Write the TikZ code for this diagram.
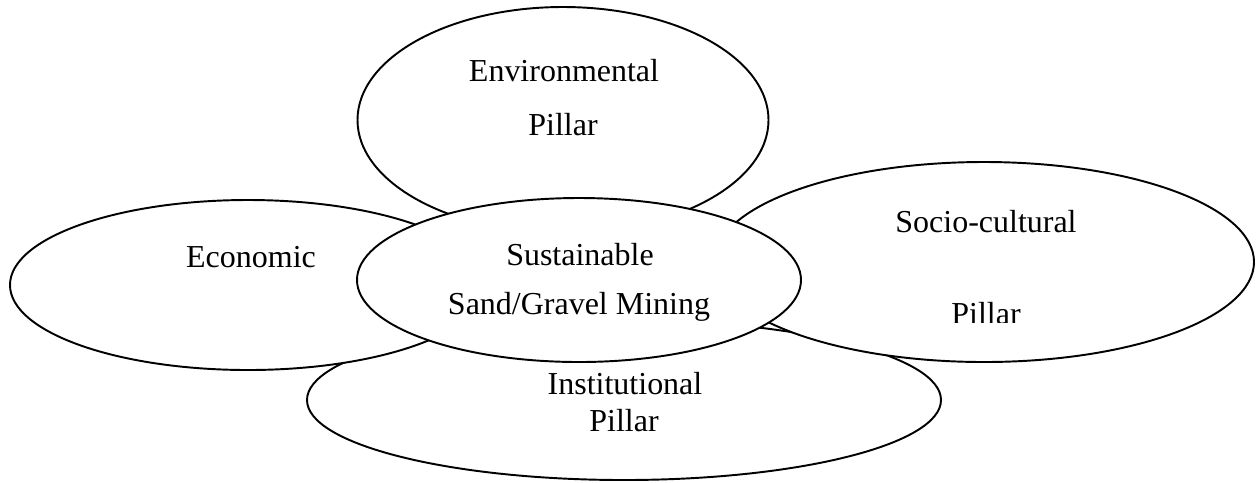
\documentclass[tikz,border=0pt]{standalone}
\usepackage{fontspec}
\setmainfont{Liberation Serif}
\usepackage{tikz}
\usetikzlibrary{shapes.geometric}

\tikzset{
    pillar/.style={ellipse, draw, fill=white, line width=1.1pt, inner sep=0pt},
    lbl/.style={font=\fontsize{18.2}{22}\selectfont, inner sep=0pt}
}

\begin{document}
\begin{tikzpicture}[x=0.2mm, y=-0.2mm]
        \useasboundingbox (0,0) rectangle (1256,482);
        % ellipses, back to front
        \node[pillar, minimum width=126.8mm, minimum height=32mm] (inst) at (624,400) {};
        \node[pillar, minimum width=95.2mm, minimum height=34mm] (econ) at (248,285) {};
        \node[pillar, minimum width=82.2mm, minimum height=45.2mm] (env) at (563,120) {};
        \node[pillar, minimum width=108mm, minimum height=40mm] (socio) at (984,262) {};
        \node[pillar, minimum width=88.8mm, minimum height=32.8mm] (core) at (579,280) {};
        % texts
        \node[lbl] (envA) at (564,71) {Environmental};
        \node[lbl] (envB) at (563,125) {Pillar};
        \node[lbl] (econA) at (251,257) {Economic};
        \node[lbl] (socA) at (986,222) {Socio-cultural};
        \begin{scope}
            \clip (900,290) rectangle (1100,322);
            \node[lbl] (socB) at (986,314) {Pillar};
        \end{scope}
        \node[lbl] (coreA) at (580,255) {Sustainable};
        \node[lbl] (coreB) at (579,307) {Sand/Gravel Mining};
        \node[lbl] (instA) at (625,384) {Institutional};
        \node[lbl] (instB) at (624,421) {Pillar};
    \end{tikzpicture}
\end{document}
